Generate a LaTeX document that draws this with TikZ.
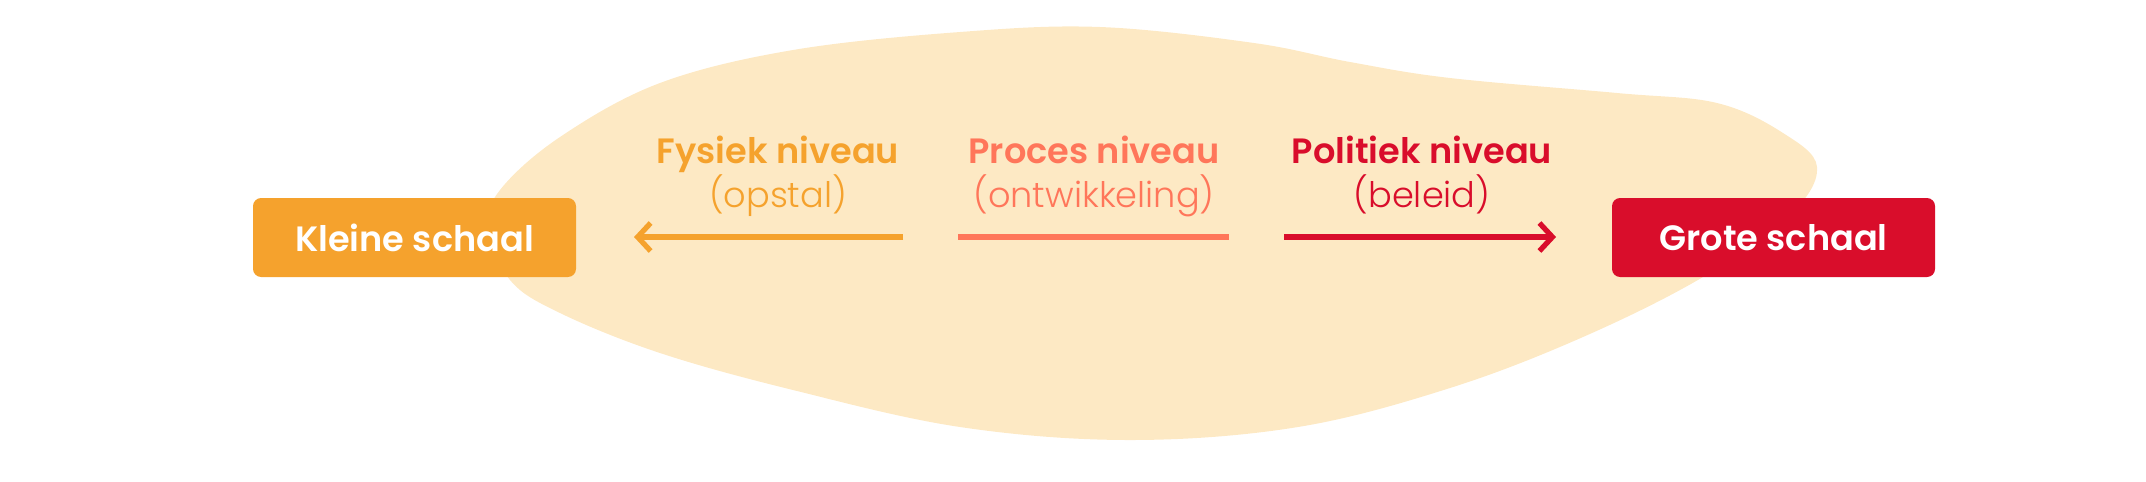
\documentclass[tikz,border=0pt]{standalone}
\usepackage{fontspec}
\setmainfont{Poppins}[BoldFont={Poppins SemiBold}]
\newfontfamily\lichtfont{Poppins Light}
\usetikzlibrary{arrows.meta}
\definecolor{blob}{HTML}{FDE9C4}
\definecolor{fysiekc}{HTML}{F5A22D}
\definecolor{procesc}{HTML}{FF765A}
\definecolor{politiekc}{HTML}{D90D2B}
\tikzset{
  schaal/.style={rectangle, rounded corners=2.3pt, minimum width=3.23cm, minimum height=0.79cm, text=white, font=\bfseries\fontsize{10}{12}\selectfont},
  titel/.style={anchor=base, font=\bfseries\fontsize{10}{12}\selectfont},
  sub/.style={anchor=base, font=\lichtfont\fontsize{10}{12}\selectfont},
  pijl/.style={line width=1.5pt, -{Straight Barb[length=1.3mm, width=2.8mm]}}
}
\begin{document}
\begin{tikzpicture}
\useasboundingbox (0,0) rectangle (21.46,4.81);
% achtergrondvorm
\fill[blob] plot[smooth cycle, tension=0.6] coordinates {
  (4.89,2.53) (5.10,2.01) (5.60,1.68) (6.60,1.28) (7.93,0.91) (9.60,0.54)
  (11.30,0.41) (12.98,0.54) (14.50,0.93) (15.83,1.44) (17.03,2.04) (17.90,2.66)
  (18.17,3.14) (17.83,3.48) (17.17,3.78) (16.17,3.88) (14.50,4.03) (13.50,4.19)
  (12.54,4.38) (11.00,4.54) (9.60,4.49) (7.93,4.31) (6.60,3.98) (5.60,3.44) (5.00,2.91)};
\node[schaal, fill=fysiekc] (klein) at (4.145,2.435) {Kleine schaal};
\node[schaal, fill=politiekc] (groot) at (17.735,2.435) {Grote schaal};
\node[titel, text=fysiekc] (fysiek) at (7.78,3.18) {Fysiek niveau};
\node[sub, text=fysiekc] (opstal) at (7.78,2.74) {(opstal)};
\node[titel, text=procesc] (proces) at (10.94,3.18) {Proces niveau};
\node[sub, text=procesc] (ontw) at (10.94,2.74) {(ontwikkeling)};
\node[titel, text=politiekc] (politiek) at (14.22,3.18) {Politiek niveau};
\node[sub, text=politiekc] (beleid) at (14.22,2.74) {(beleid)};
\coordinate (fysiekA) at (9.03,2.44);
\coordinate (fysiekB) at (6.34,2.44);
\coordinate (procesA) at (9.58,2.44);
\coordinate (procesB) at (12.29,2.44);
\coordinate (politiekA) at (12.84,2.44);
\coordinate (politiekB) at (15.56,2.44);
\draw[pijl, fysiekc] (fysiekA) -- (fysiekB);
\draw[line width=1.6pt, procesc] (procesA) -- (procesB);
\draw[pijl, politiekc] (politiekA) -- (politiekB);
\end{tikzpicture}
\end{document}
